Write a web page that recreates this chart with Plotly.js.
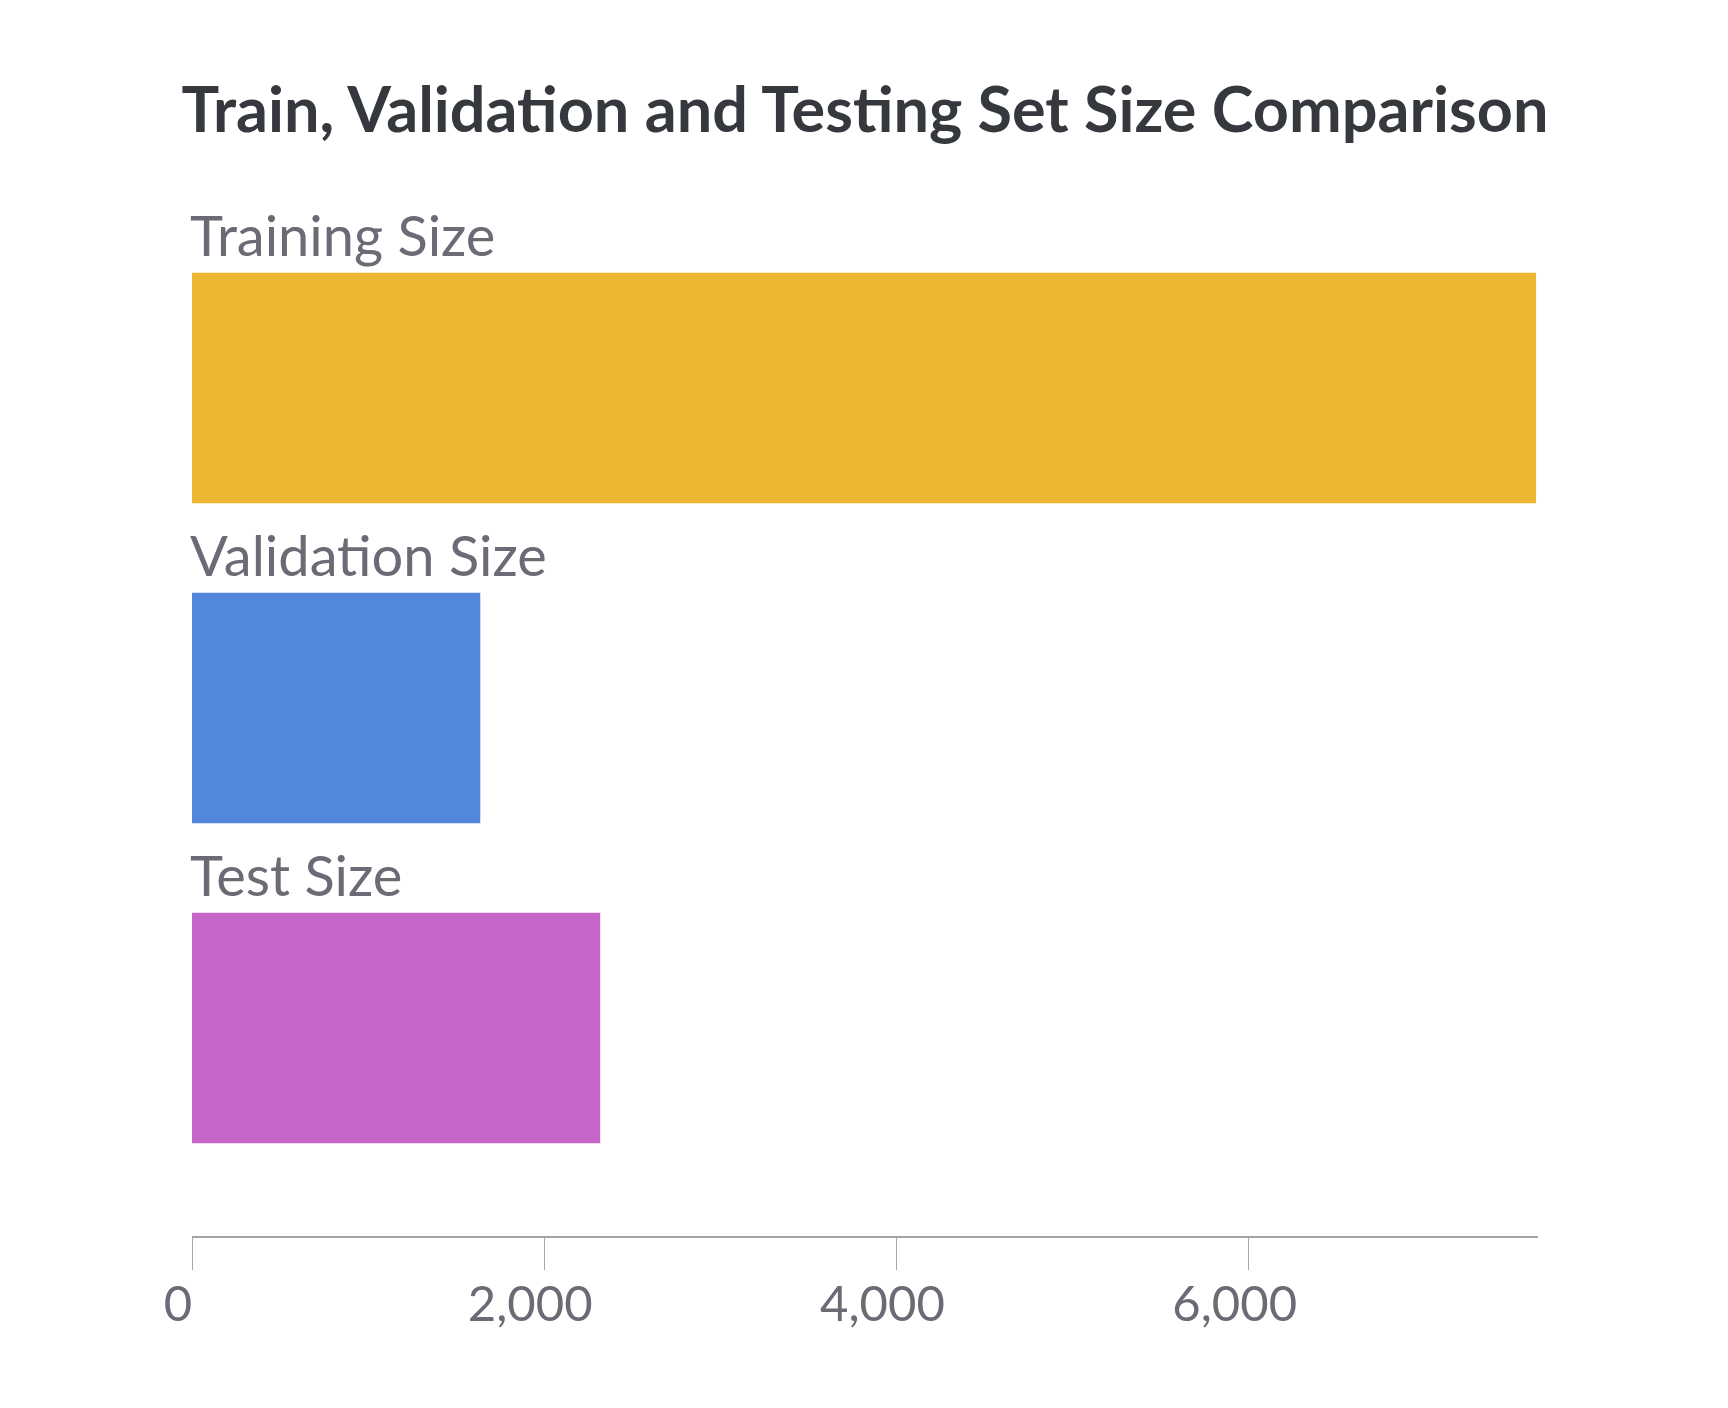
<!DOCTYPE html>
<html>
<head>
<meta charset="utf-8">
<script src="https://cdn.plot.ly/plotly-3.0.1.min.js"></script>
<style>html,body{margin:0;padding:0;background:#fff;}#chart{width:1728px;height:1408px;}</style>
</head>
<body>
<div id="chart"></div>
<script>
const categories = ["Training Size", "Validation Size", "Test Size"];
const sizes = [7632, 1637, 2318];
const barColors = ["#EDB731", "#5387DD", "#C565C7"];
const tickValues = [0, 2000, 4000, 6000];
const tickLabels = ["0", "2,000", "4,000", "6,000"];
const chartTitle = "Train, Validation and Testing Set Size Comparison";

const FONT = "Lato, 'Open Sans', 'Noto Sans', sans-serif";

const trace = {
  type: "bar",
  orientation: "h",
  x: sizes,
  y: categories,
  width: 0.72,
  marker: {color: barColors, line: {width: 0}},
  hoverinfo: "x+y",
  showlegend: false
};

const annotations = categories.map(function (c) {
  return {
    x: 0, xref: "x", y: c, yref: "y",
    text: c, showarrow: false,
    xanchor: "left", yanchor: "bottom",
    xshift: -4, yshift: 118,
    font: {family: FONT, size: 56, color: "#6B6B76"}
  };
});

const layout = {
  width: 1728, height: 1408,
  paper_bgcolor: "#ffffff", plot_bgcolor: "#ffffff",
  margin: {l: 192, r: 190, t: 180, b: 172, pad: 0},
  title: {
    text: "<b>" + chartTitle + "</b>",
    x: 0.5, xanchor: "center", xref: "paper",
    y: 0.922, yanchor: "middle", yref: "container",
    font: {family: FONT, size: 63, color: "#35393D"}
  },
  xaxis: {
    range: [0, 7643],
    tickvals: tickValues, ticktext: tickLabels,
    ticks: "outside", ticklen: 32, tickwidth: 1, tickcolor: "#A8A8AB",
    showline: true, linecolor: "#A3A3A3", linewidth: 2,
    showgrid: false, zeroline: false,
    ticklabelshift: -14,
    ticklabelstandoff: -8,
    tickfont: {family: FONT, size: 49, color: "#6B6B76"},
    fixedrange: true
  },
  yaxis: {
    type: "category",
    categoryorder: "array", categoryarray: categories,
    range: [2.65, -0.65],
    showticklabels: false, showline: false, showgrid: false, zeroline: false,
    ticks: "", fixedrange: true
  },
  annotations: annotations,
  bargap: 0.28
};

Plotly.newPlot("chart", [trace], layout, {displayModeBar: false, staticPlot: true});
</script>
</body>
</html>
